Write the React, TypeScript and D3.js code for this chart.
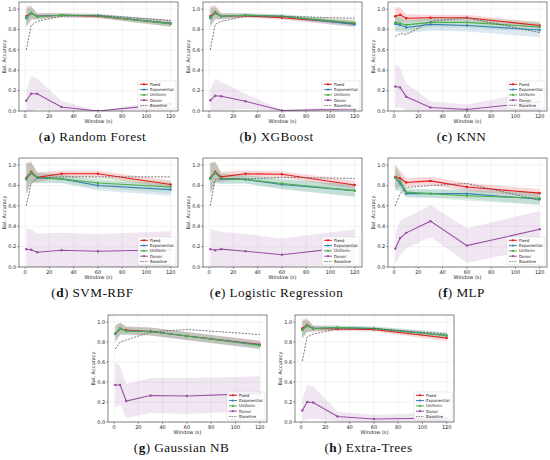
import React from 'react';
import * as d3 from 'd3';

const windows = [1, 5, 10, 30, 60, 120];
const models = ['Random Forest', 'XGBoost', 'KNN', 'SVM-RBF', 'Logistic Regression', 'MLP', 'Gaussian NB', 'Extra-Trees'];
const letters = ['a', 'b', 'c', 'd', 'e', 'f', 'g', 'h'];
const xTicks = [0, 20, 40, 60, 80, 100, 120];
const yTicks = [0, 0.2, 0.4, 0.6, 0.8, 1.0];
const seriesNames = ['Fixed', 'Exponential', 'Uniform', 'Donor', 'Baseline'];

const fixedMean = [
  [0.93, 0.96, 0.93, 0.94, 0.93, 0.86],
  [0.93, 0.97, 0.93, 0.935, 0.915, 0.86],
  [0.93, 0.945, 0.91, 0.915, 0.915, 0.84],
  [0.875, 0.935, 0.88, 0.915, 0.915, 0.81],
  [0.875, 0.935, 0.885, 0.915, 0.91, 0.805],
  [0.885, 0.87, 0.83, 0.845, 0.785, 0.725],
  [0.885, 0.93, 0.92, 0.905, 0.86, 0.775],
  [0.935, 0.97, 0.935, 0.93, 0.925, 0.84],
];
const fixedStd = [
  [0.1, 0.07, 0.03, 0.02, 0.02, 0.03],
  [0.1, 0.07, 0.03, 0.02, 0.02, 0.03],
  [0.09, 0.07, 0.04, 0.03, 0.03, 0.03],
  [0.15, 0.1, 0.05, 0.03, 0.03, 0.04],
  [0.15, 0.1, 0.05, 0.03, 0.03, 0.04],
  [0.12, 0.08, 0.04, 0.04, 0.04, 0.04],
  [0.08, 0.06, 0.04, 0.04, 0.04, 0.04],
  [0.09, 0.07, 0.03, 0.02, 0.02, 0.03],
];
const expMean = [
  [0.91, 0.96, 0.93, 0.94, 0.935, 0.86],
  [0.91, 0.96, 0.93, 0.94, 0.93, 0.85],
  [0.855, 0.845, 0.82, 0.85, 0.84, 0.795],
  [0.865, 0.92, 0.875, 0.865, 0.8, 0.76],
  [0.87, 0.925, 0.865, 0.86, 0.81, 0.75],
  [0.875, 0.82, 0.72, 0.72, 0.72, 0.665],
  [0.88, 0.935, 0.91, 0.905, 0.86, 0.77],
  [0.92, 0.96, 0.935, 0.945, 0.935, 0.865],
];
const expStd = [
  [0.09, 0.06, 0.03, 0.02, 0.02, 0.03],
  [0.09, 0.06, 0.03, 0.02, 0.02, 0.03],
  [0.08, 0.07, 0.06, 0.06, 0.06, 0.07],
  [0.15, 0.1, 0.05, 0.04, 0.05, 0.06],
  [0.15, 0.1, 0.05, 0.04, 0.05, 0.06],
  [0.12, 0.08, 0.04, 0.04, 0.05, 0.06],
  [0.08, 0.06, 0.04, 0.04, 0.04, 0.04],
  [0.09, 0.06, 0.03, 0.02, 0.02, 0.03],
];
const uniMean = [
  [0.92, 0.965, 0.925, 0.94, 0.935, 0.855],
  [0.92, 0.965, 0.93, 0.94, 0.93, 0.865],
  [0.87, 0.86, 0.845, 0.87, 0.87, 0.825],
  [0.86, 0.925, 0.88, 0.865, 0.825, 0.785],
  [0.865, 0.925, 0.87, 0.86, 0.82, 0.75],
  [0.875, 0.84, 0.735, 0.72, 0.7, 0.675],
  [0.885, 0.935, 0.91, 0.905, 0.86, 0.765],
  [0.92, 0.965, 0.935, 0.945, 0.935, 0.865],
];
const uniStd = [
  [0.09, 0.06, 0.03, 0.02, 0.02, 0.03],
  [0.09, 0.06, 0.03, 0.02, 0.02, 0.03],
  [0.08, 0.07, 0.06, 0.05, 0.05, 0.05],
  [0.15, 0.1, 0.05, 0.04, 0.05, 0.06],
  [0.15, 0.1, 0.05, 0.04, 0.05, 0.06],
  [0.12, 0.08, 0.04, 0.04, 0.05, 0.06],
  [0.08, 0.06, 0.04, 0.04, 0.04, 0.04],
  [0.09, 0.06, 0.03, 0.02, 0.02, 0.03],
];
const donorMean = [
  [0.1, 0.17, 0.17, 0.04, 0.0, 0.07],
  [0.105, 0.15, 0.145, 0.095, 0.005, 0.02],
  [0.24, 0.23, 0.14, 0.035, 0.015, 0.09],
  [0.175, 0.17, 0.145, 0.165, 0.155, 0.17],
  [0.175, 0.165, 0.175, 0.155, 0.12, 0.2],
  [0.18, 0.285, 0.335, 0.45, 0.21, 0.37],
  [0.37, 0.37, 0.21, 0.265, 0.26, 0.285],
  [0.115, 0.2, 0.195, 0.055, 0.03, 0.04],
];
const donorStd = [
  [0.1, 0.17, 0.15, 0.06, 0.0, 0.05],
  [0.1, 0.17, 0.14, 0.075, 0.005, 0.03],
  [0.22, 0.19, 0.13, 0.06, 0.05, 0.11],
  [0.2, 0.2, 0.185, 0.17, 0.17, 0.18],
  [0.2, 0.19, 0.17, 0.17, 0.16, 0.17],
  [0.15, 0.17, 0.15, 0.155, 0.17, 0.18],
  [0.23, 0.19, 0.17, 0.175, 0.18, 0.17],
  [0.11, 0.17, 0.16, 0.05, 0.04, 0.06],
];
const baseline = [
  [0.6, 0.84, 0.88, 0.93, 0.94, 0.89],
  [0.6, 0.85, 0.88, 0.93, 0.93, 0.91],
  [0.73, 0.76, 0.75, 0.88, 0.915, 0.77],
  [0.6, 0.82, 0.875, 0.885, 0.885, 0.885],
  [0.6, 0.86, 0.865, 0.865, 0.88, 0.87],
  [0.6, 0.72, 0.78, 0.8, 0.82, 0.655],
  [0.73, 0.8, 0.82, 0.9, 0.925, 0.875],
  [0.61, 0.85, 0.88, 0.93, 0.935, 0.88],
];

const colors = ['#e41a1c', '#377eb8', '#4daf4a', '#984ea3', '#555555'];

const panels = [
  { L: 19, T: 2, H: 109 },
  { L: 203, T: 2, H: 109 },
  { L: 388, T: 2, H: 109 },
  { L: 19, T: 158, H: 109 },
  { L: 203, T: 158, H: 109 },
  { L: 388, T: 158, H: 109 },
  { L: 108, T: 315, H: 107 },
  { L: 295, T: 315, H: 107 },
];
const W = 159;
const tickFont = 5;
const FONT = 'DejaVu Sans';

function Panel({ i }: { i: number }) {
  const { L, T, H } = panels[i];
  const x = d3.scaleLinear().domain([-5, 126]).range([L, L + W]);
  const y = d3.scaleLinear().domain([0, 1.07]).range([T + H, T]);
  const pts = (arr: number[]) => arr.map((v, k) => [windows[k], v] as [number, number]);
  const line = d3.line<[number, number]>().x((d) => x(d[0])).y((d) => y(d[1]));
  const area = (m: number[], s: number[]) =>
    d3
      .area<number>()
      .x((_, k) => x(windows[k]))
      .y0((v, k) => y(Math.max(0, v - s[k])))
      .y1((v, k) => y(v + s[k]))(m) || '';

  const main = [
    { m: fixedMean[i], s: fixedStd[i], c: colors[0] },
    { m: expMean[i], s: expStd[i], c: colors[1] },
    { m: uniMean[i], s: uniStd[i], c: colors[2] },
    { m: donorMean[i], s: donorStd[i], c: colors[3] },
  ];
  const clipId = `clip${i}`;
  const lgW = 38;
  const lgH = 28;
  const lgX = L + W - lgW - 2;
  const lgY = T + H - lgH - 2;
  const cx = L + W / 2;

  return (
    <g>
      <defs>
        <clipPath id={clipId}>
          <rect x={L} y={T} width={W} height={H} />
        </clipPath>
      </defs>
      <rect x={L} y={T} width={W} height={H} fill="#fff" />
      {xTicks.map((t) => (
        <line key={'gx' + t} x1={x(t)} x2={x(t)} y1={T} y2={T + H} stroke="#e6e6e6" strokeWidth={0.5} />
      ))}
      {yTicks.map((t) => (
        <line key={'gy' + t} x1={L} x2={L + W} y1={y(t)} y2={y(t)} stroke="#e6e6e6" strokeWidth={0.5} />
      ))}
      <g clipPath={`url(#${clipId})`}>
        {main.map((sr, k) => (
          <path key={'a' + k} d={area(sr.m, sr.s)} fill={sr.c} fillOpacity={k === 3 ? 0.14 : 0.17} stroke="none" />
        ))}
        {main.map((sr, k) => (
          <g key={'l' + k}>
            <path d={line(pts(sr.m)) || ''} fill="none" stroke={sr.c} strokeWidth={1.1} />
            {sr.m.map((v, j) => (
              <circle key={j} cx={x(windows[j])} cy={y(v)} r={1.2} fill={sr.c} />
            ))}
          </g>
        ))}
        <path d={line(pts(baseline[i])) || ''} fill="none" stroke={colors[4]} strokeWidth={0.8} strokeDasharray="2,1.3" />
      </g>
      <rect x={L} y={T} width={W} height={H} fill="none" stroke="#333" strokeWidth={0.6} />
      {xTicks.map((t) => (
        <g key={'tx' + t}>
          <line x1={x(t)} x2={x(t)} y1={T + H} y2={T + H + 1.8} stroke="#333" strokeWidth={0.5} />
          <text x={x(t)} y={T + H + 6.5} fontSize={tickFont} fontFamily={FONT} textAnchor="middle" fill="#222">
            {t}
          </text>
        </g>
      ))}
      {yTicks.map((t) => (
        <g key={'ty' + t}>
          <line x1={L - 1.8} x2={L} y1={y(t)} y2={y(t)} stroke="#333" strokeWidth={0.5} />
          <text x={L - 2.8} y={y(t) + 1.8} fontSize={tickFont} fontFamily={FONT} textAnchor="end" fill="#222">
            {t.toFixed(1)}
          </text>
        </g>
      ))}
      <text x={cx} y={T + H + 11.5} fontSize={5} fontFamily={FONT} textAnchor="middle" fill="#222">
        Window (s)
      </text>
      <text
        transform={`translate(${L - 13},${T + H / 2}) rotate(-90)`}
        fontSize={5}
        fontFamily={FONT}
        textAnchor="middle"
        fill="#222"
      >
        Bal. Accuracy
      </text>
      <g>
        <rect x={lgX} y={lgY} width={lgW} height={lgH} rx={1} fill="#fff" fillOpacity={0.85} stroke="#ccc" strokeWidth={0.4} />
        {seriesNames.map((nm, k) => {
          const ly = lgY + 3.3 + k * 5.3;
          return (
            <g key={nm}>
              <line
                x1={lgX + 2}
                x2={lgX + 10}
                y1={ly}
                y2={ly}
                stroke={colors[k]}
                strokeWidth={k === 4 ? 0.7 : 1}
                strokeDasharray={k === 4 ? '1.5,1' : undefined}
              />
              {k < 4 && <circle cx={lgX + 6} cy={ly} r={1.1} fill={colors[k]} />}
              <text x={lgX + 12} y={ly + 1.4} fontSize={4} fontFamily={FONT} fill="#222">
                {nm}
              </text>
            </g>
          );
        })}
      </g>
      <text
        x={L + W / 2 - 6}
        y={T + H + 30}
        fontSize={13.2}
        letterSpacing={0.45}
        fontFamily="'Liberation Serif', serif"
        textAnchor="middle"
        fill="#111"
      >
        <tspan>(</tspan>
        <tspan fontWeight="bold">{letters[i]}</tspan>
        <tspan>)</tspan>
        <tspan> {models[i]}</tspan>
      </text>
    </g>
  );
}

export default function App() {
  return (
    <div style={{ position: 'absolute', left: 0, top: 0 }}>
      <style>{'body{margin:0}'}</style>
      <svg width={550} height={460} viewBox="0 0 550 460" style={{ display: 'block', background: '#fff' }}>
        {models.map((_, i) => (
          <Panel key={i} i={i} />
        ))}
      </svg>
    </div>
  );
}
